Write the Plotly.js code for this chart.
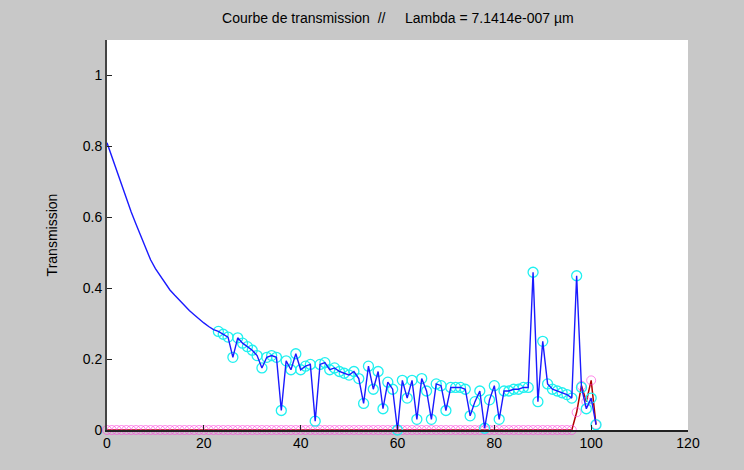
<!DOCTYPE html>
<html>
<head>
<meta charset="utf-8">
<script src="https://cdn.plot.ly/plotly-3.0.1.min.js"></script>
<style>
html,body{margin:0;padding:0;background:#c8c8c8;}
#chart{width:744px;height:470px;}
</style>
</head>
<body>
<div id="chart"></div>
<script>
// Position index (0..101)
var positions = [];
for (var i = 0; i <= 101; i++) positions.push(i);

// Transmission curve (blue line)
var transmission = [
  0.81, 0.77, 0.73, 0.69, 0.65, 0.615, 0.58, 0.545, 0.51, 0.48,
  0.455, 0.435, 0.415, 0.395, 0.38, 0.365, 0.35, 0.337, 0.325, 0.313,
  0.302, 0.292, 0.283, 0.278, 0.27, 0.262, 0.205, 0.26, 0.245, 0.235,
  0.225, 0.21, 0.175, 0.205, 0.21, 0.205, 0.055, 0.195, 0.17, 0.215,
  0.17, 0.18, 0.185, 0.025, 0.185, 0.19, 0.17, 0.175, 0.165, 0.16,
  0.155, 0.165, 0.145, 0.075, 0.18, 0.115, 0.165, 0.06, 0.135, 0.115,
  0.0, 0.14, 0.09, 0.14, 0.03, 0.145, 0.11, 0.03, 0.13, 0.125,
  0.055, 0.12, 0.12, 0.12, 0.115, 0.04, 0.08, 0.11, 0.005, 0.085,
  0.125, 0.03, 0.11, 0.11, 0.115, 0.115, 0.12, 0.12, 0.445, 0.08,
  0.25, 0.13, 0.115, 0.11, 0.105, 0.1, 0.09, 0.435, 0.12, 0.06,
  0.09, 0.015
];

// Second series (red line, magenta circles)
var secondSeries = [];
for (var j = 0; j <= 96; j++) secondSeries.push(0);
secondSeries = secondSeries.concat([0.05, 0.125, 0.08, 0.14, 0.015]);

// Circles on the transmission curve start at this index
var markStart = 23;

var traces = [
  {
    x: positions, y: secondSeries, type: 'scatter', mode: 'lines',
    line: {color: '#b00000', width: 1.5}, hoverinfo: 'skip', cliponaxis: false
  },
  {
    x: positions, y: secondSeries, type: 'scatter', mode: 'markers',
    marker: {symbol: 'circle-open', size: 9, color: 'rgba(255,60,220,0.6)', line: {width: 1}},
    cliponaxis: false
  },
  {
    x: positions.slice(markStart), y: transmission.slice(markStart), type: 'scatter', mode: 'markers',
    marker: {symbol: 'circle-open', size: 10, color: '#20f0f0', line: {width: 1.3}},
    cliponaxis: false
  },
  {
    x: positions, y: transmission, type: 'scatter', mode: 'lines',
    line: {color: '#1a1aff', width: 1.4}, cliponaxis: false
  }
];

var fontFam = 'Liberation Sans, Arial, sans-serif';
var layout = {
  width: 744, height: 470,
  paper_bgcolor: '#c8c8c8',
  plot_bgcolor: '#ffffff',
  showlegend: false,
  margin: {l: 107, r: 56, t: 40, b: 40, pad: 0},
  title: {
    text: 'Courbe de transmission  //     Lambda = 7.1414e-007 µm',
    font: {family: fontFam, size: 14, color: '#000'},
    x: 0.5348, xanchor: 'center', y: 0.962, yanchor: 'middle'
  },
  xaxis: {
    range: [0, 120], tickvals: [0, 20, 40, 60, 80, 100, 120],
    ticks: 'inside', ticklen: 5, tickcolor: '#222', tickwidth: 1,
    showline: true, linecolor: '#222', linewidth: 1.5, mirror: false,
    showgrid: false, zeroline: false,
    tickfont: {family: fontFam, size: 14, color: '#000'}
  },
  yaxis: {
    range: [0, 1.1], tickvals: [0, 0.2, 0.4, 0.6, 0.8, 1],
    ticktext: ['0', '0.2', '0.4', '0.6', '0.8', '1'],
    ticks: 'inside', ticklen: 5, tickcolor: '#222', tickwidth: 1,
    showline: true, linecolor: '#444', linewidth: 2, mirror: false,
    showgrid: false, zeroline: false,
    tickfont: {family: fontFam, size: 14, color: '#000'},
    title: {text: 'Transmission', font: {family: fontFam, size: 14, color: '#000'}, standoff: 22}
  }
};

Plotly.newPlot('chart', traces, layout, {displayModeBar: false, staticPlot: true});
</script>
</body>
</html>
